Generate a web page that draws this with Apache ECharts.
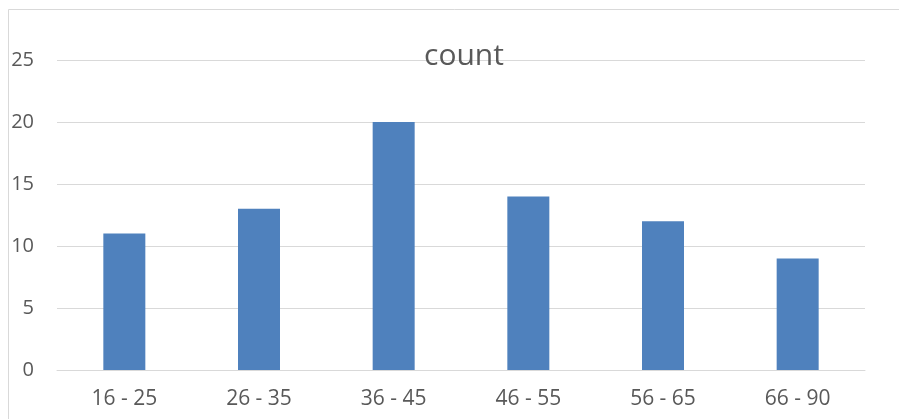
<!DOCTYPE html>
<html>
<head>
<meta charset="utf-8">
<style>
  html, body { margin: 0; padding: 0; background: #ffffff; }
  #chart { width: 899px; height: 419px; }
</style>
<script src="https://cdn.jsdelivr.net/npm/echarts@6/dist/echarts.min.js"></script>
</head>
<body>
<div id="chart"></div>
<script>
// Age groups and how many people fall in each
const categories = ['16 - 25', '26 - 35', '36 - 45', '46 - 55', '56 - 65', '66 - 90'];
const counts = [11, 13, 20, 14, 12, 9];
const yTicks = { min: 0, max: 25, step: 5 };

const textColor = '#595959';
const lineColor = '#d9d9d9';
const fontFamily = '"Open Sans", "Noto Sans", sans-serif';

const chart = echarts.init(document.getElementById('chart'), null, { renderer: 'canvas' });

chart.setOption({
  animation: false,
  backgroundColor: '#ffffff',
  title: {
    text: 'count',
    left: 459,
    top: 36,
    textAlign: 'center',
    textStyle: { color: textColor, fontSize: 30, fontWeight: 'normal', fontFamily }
  },
  graphic: [
    {
      // chart-area frame (top and left edges)
      type: 'polyline',
      silent: true,
      shape: { points: [[8.5, 430], [8.5, 9.5], [910, 9.5]] },
      style: { stroke: lineColor, lineWidth: 1, fill: null }
    }
  ],
  grid: { left: 57, right: 34, top: 60, bottom: 49, containLabel: false },
  xAxis: {
    type: 'category',
    data: categories,
    axisTick: { show: false },
    axisLine: { lineStyle: { color: lineColor, width: 1 } },
    axisLabel: { color: textColor, fontSize: 21, fontFamily, margin: 19 }
  },
  yAxis: {
    type: 'value',
    min: yTicks.min,
    max: yTicks.max,
    interval: yTicks.step,
    axisLine: { show: false },
    axisTick: { show: false },
    splitLine: { lineStyle: { color: lineColor, width: 1 } },
    axisLabel: { color: textColor, fontSize: 20, fontFamily, margin: 23 }
  },
  series: [
    {
      type: 'bar',
      data: counts,
      barWidth: 42,
      itemStyle: { color: '#4f81bd' }
    }
  ]
});
</script>
</body>
</html>
